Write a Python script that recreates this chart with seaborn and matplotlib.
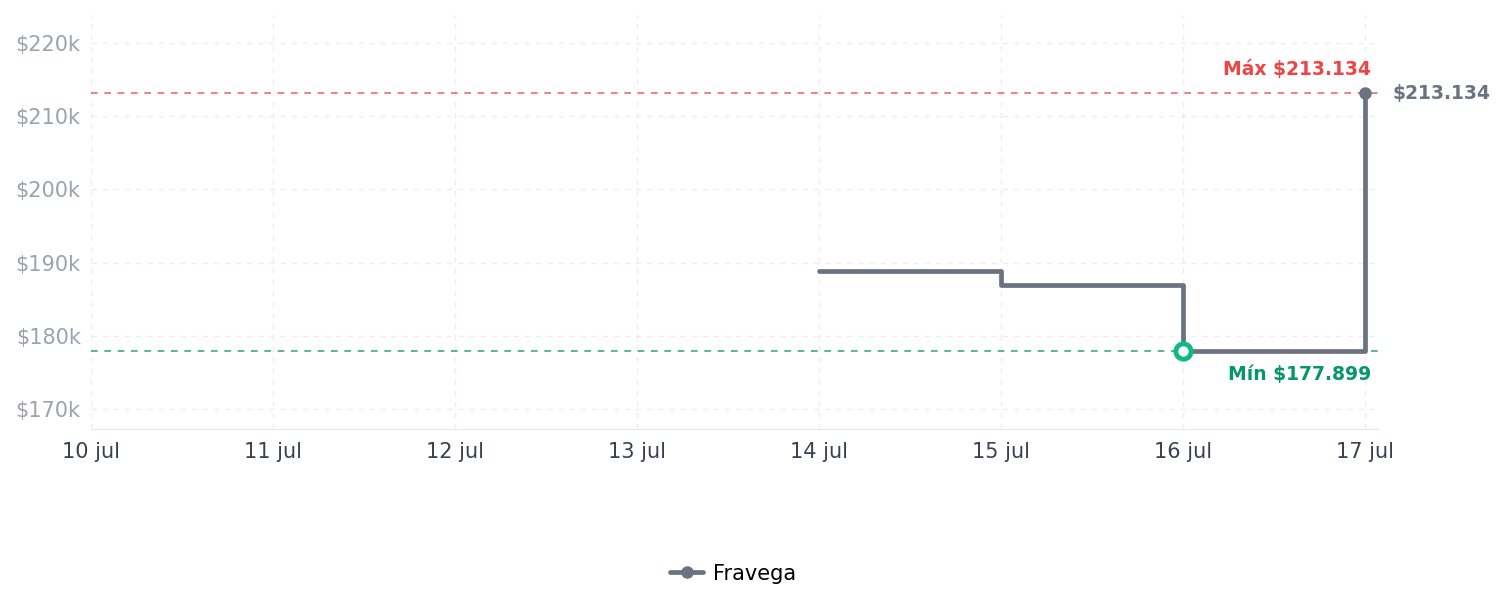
import pandas as pd
import seaborn as sns
import matplotlib.pyplot as plt
from matplotlib.lines import Line2D

# price history (one store)
store = "Fravega"
dates = ["2024-07-14", "2024-07-15", "2024-07-16", "2024-07-17"]
prices = [188900, 186900, 177899, 213134]
tick_dates = ["2024-07-10", "2024-07-11", "2024-07-12", "2024-07-13",
              "2024-07-14", "2024-07-15", "2024-07-16", "2024-07-17"]
y_ticks = [170000, 180000, 190000, 200000, 210000, 220000]

df = pd.DataFrame({"fecha": pd.to_datetime(dates), "precio": prices, "tienda": store})
max_p = max(prices)
min_p = min(prices)
min_date = df.loc[df.precio.idxmin(), "fecha"]
last = df.iloc[-1]

sns.set_style("white")
plt.rcParams['font.family'] = ['DejaVu Sans']

fig = plt.figure(figsize=(15.05, 6.07), dpi=100)
ax = fig.add_axes([0.0605, 0.293, 0.855, 0.682])

line_col = "#6b7280"
sns.lineplot(data=df, x="fecha", y="precio", color=line_col, linewidth=3.4,
             drawstyle="steps-post", ax=ax, legend=False, zorder=3)

# reference lines for max / min
ax.axhline(max_p, color="#ef4444", alpha=0.8, linestyle=(0, (4, 4)), linewidth=1.2, zorder=2)
ax.axhline(min_p, color="#059669", alpha=0.8, linestyle=(0, (4, 4)), linewidth=1.2, zorder=2)

# markers
ax.plot(last.fecha, last.precio, "o", color=line_col, markersize=8, zorder=4)
ax.plot(min_date, min_p, "o", markerfacecolor="white", markeredgecolor="#10b981",
        markeredgewidth=3.5, markersize=11, zorder=5)

ax.annotate(f"Máx ${max_p:,}".replace(",", "."), (last.fecha, max_p),
            xytext=(4.5, 10), textcoords="offset points", ha="right", va="bottom",
            color="#ef4444", fontsize=13.5, fontweight="bold")
ax.annotate(f"Mín ${min_p:,}".replace(",", "."), (last.fecha, min_p),
            xytext=(4.5, -10), textcoords="offset points", ha="right", va="top",
            color="#059669", fontsize=13.5, fontweight="bold")
ax.annotate(f"${last.precio:,}".replace(",", "."), (last.fecha, last.precio),
            xytext=(20, 0), textcoords="offset points", ha="left", va="center",
            color=line_col, fontsize=13.5, fontweight="bold", annotation_clip=False)

ticks = pd.to_datetime(tick_dates)
ax.set_xticks(ticks)
ax.set_xticklabels([f"{d.day} jul" for d in ticks])
ax.set_xlim(ticks[0], ticks[-1] + pd.Timedelta(hours=1.7))
ax.set_yticks(y_ticks)
ax.set_yticklabels([f"${v // 1000}k" for v in y_ticks])
ax.set_ylim(167250, 223800)
ax.set_xlabel("")
ax.set_ylabel("")

ax.grid(True, color="#e5e7eb", linestyle=(0, (4, 4)), linewidth=1, alpha=0.7)
ax.tick_params(axis="x", labelcolor="#374151", labelsize=15, length=0, pad=9.5)
ax.tick_params(axis="y", labelcolor="#9ca3af", labelsize=15, length=0, pad=7.5)
for s in ["top", "right", "left"]:
    ax.spines[s].set_visible(False)
ax.spines["bottom"].set_color("#e5e7eb")

handle = Line2D([], [], color=line_col, linewidth=3.4, marker="o", markersize=8)
fig.legend([handle], [store], loc="center", bbox_to_anchor=(0.487, 0.055),
           frameon=False, fontsize=15, handlelength=1.6, handletextpad=0.45,
           labelcolor="black")

fig.savefig("out.png", dpi=100)
